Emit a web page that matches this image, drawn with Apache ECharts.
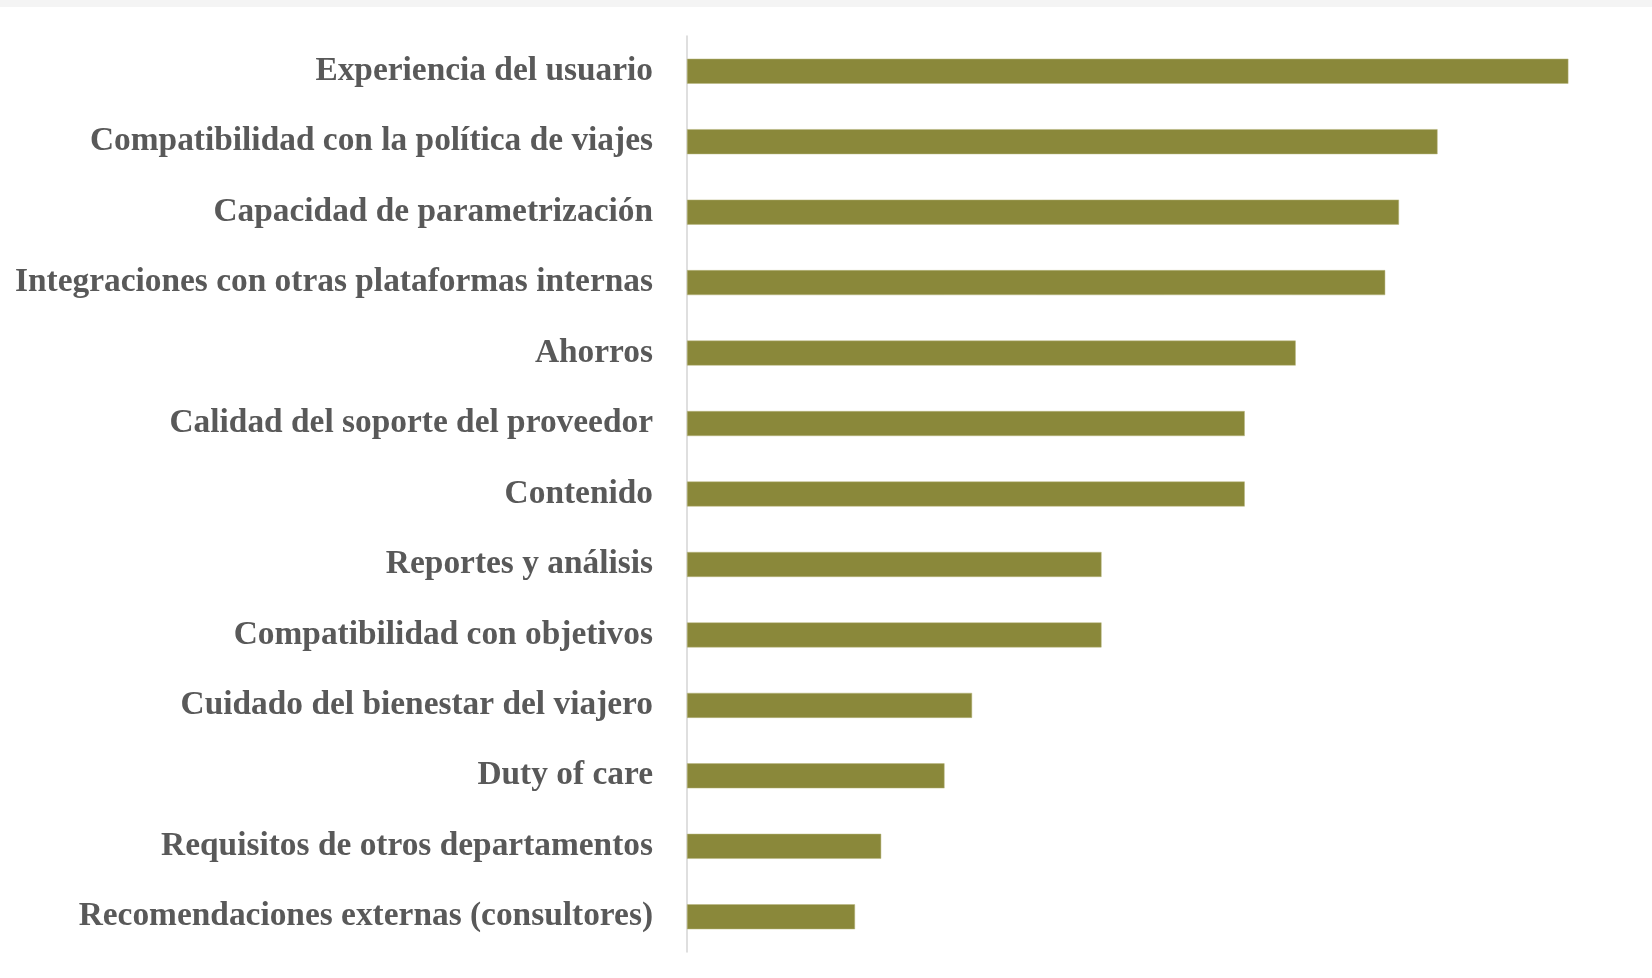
<!DOCTYPE html>
<html>
<head>
<meta charset="utf-8">
<script src="https://cdn.jsdelivr.net/npm/echarts@6/dist/echarts.min.js"></script>
<style>
html,body{margin:0;padding:0;background:#fff;}
#chart{width:1652px;height:978px;}
</style>
</head>
<body>
<div id="chart"></div>
<script>
const categories = [
  "Experiencia del usuario",
  "Compatibilidad con la política de viajes",
  "Capacidad de parametrización",
  "Integraciones con otras plataformas internas",
  "Ahorros",
  "Calidad del soporte del proveedor",
  "Contenido",
  "Reportes y análisis",
  "Compatibilidad con objetivos",
  "Cuidado del bienestar del viajero",
  "Duty of care",
  "Requisitos de otros departamentos",
  "Recomendaciones externas (consultores)"
];
const values = [64.0, 54.5, 51.7, 50.7, 44.2, 40.5, 40.5, 30.1, 30.1, 20.7, 18.7, 14.1, 12.2];

const chart = echarts.init(document.getElementById('chart'));
chart.setOption({
  animation: false,
  graphic: [{
    type: 'rect', left: 0, top: 0,
    shape: {width: 1652, height: 7},
    style: {fill: '#f4f4f4'}
  }],
  grid: {left: 687, top: 36, width: 964, height: 916, containLabel: false},
  xAxis: {
    type: 'value', min: 0, max: 70,
    show: false
  },
  yAxis: {
    type: 'category',
    inverse: true,
    data: categories,
    axisLine: {show: true, lineStyle: {color: '#d4d4d4', width: 1.5}},
    axisTick: {show: false},
    axisLabel: {
      margin: 34,
      color: '#595959',
      fontFamily: '"Liberation Serif", "DejaVu Serif", serif',
      fontWeight: 'bold',
      fontSize: 33.4
    }
  },
  series: [{
    type: 'bar',
    data: values,
    barWidth: 25,
    itemStyle: {color: '#8a883a', borderColor: '#b9b77f', borderWidth: 0.5}
  }]
});
</script>
</body>
</html>
